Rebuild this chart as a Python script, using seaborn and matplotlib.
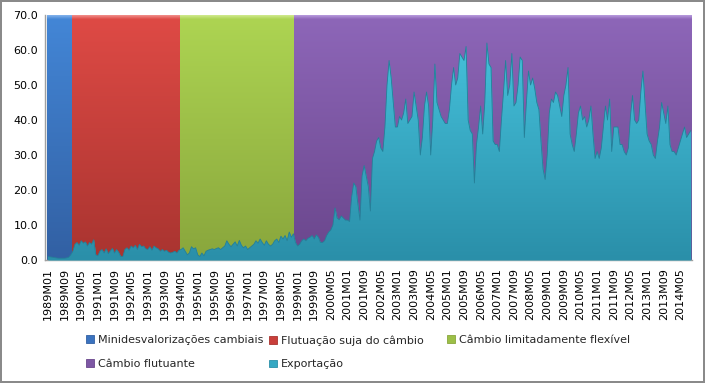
import numpy as np
import pandas as pd
import matplotlib
matplotlib.use("Agg")
import matplotlib.pyplot as plt
from matplotlib.colors import LinearSegmentedColormap
from matplotlib.patches import Patch
import seaborn as sns

# meses 1989M01 .. 2014M10
meses = [f"{a}M{m:02d}" for a in range(1989, 2015) for m in range(1, 13)][:310]

exportacao = [
    1.0, 0.9, 0.8, 0.7, 0.6, 0.5, 0.5, 0.5, 0.5, 0.6, 0.8, 1.5,   # 1989
    2.5, 4.5, 5.0, 4.2, 5.5, 4.8, 5.2, 4.0, 5.0, 4.5, 5.8, 1.5,   # 1990
    1.2, 2.5, 3.0, 2.0, 3.2, 1.8, 2.6, 3.3, 2.0, 3.0, 2.2, 1.0,   # 1991
    1.0, 3.0, 3.5, 2.8, 4.0, 3.5, 4.2, 3.0, 4.5, 3.8, 4.0, 3.2,   # 1992
    3.0, 3.8, 2.8, 4.0, 3.5, 3.2, 2.5, 3.0, 2.5, 2.8, 2.2, 2.0,   # 1993
    2.2, 2.5, 2.0, 2.8, 3.0, 3.5, 2.5, 1.5, 2.0, 3.8, 3.2, 3.5,   # 1994
    1.5, 1.0, 2.0, 1.2, 2.5, 2.8, 3.0, 3.2, 3.0, 3.3, 3.5, 3.0,   # 1995
    3.5, 4.0, 5.5, 4.5, 3.8, 4.5, 5.2, 4.0, 5.6, 4.2, 3.5, 4.0,   # 1996
    3.0, 3.5, 4.0, 4.5, 5.5, 4.8, 6.0, 5.0, 4.2, 5.5, 4.5, 4.0,   # 1997
    4.5, 5.5, 6.0, 5.0, 6.8, 6.0, 7.0, 5.5, 8.0, 6.5, 7.5, 5.0,   # 1998
    4.0, 4.5, 5.5, 6.0, 5.5, 6.2, 6.5, 7.0, 6.0, 7.2, 6.5, 5.0,   # 1999
    5.0, 5.5, 7.0, 8.0, 8.6, 10.0, 14.9, 12.0, 11.5, 12.6, 12.0, 11.4,  # 2000
    11.4, 11.0, 18.0, 22.0, 21.0, 16.0, 11.4, 24.0, 27.0, 24.0, 21.0, 14.0,  # 2001
    29, 31, 34, 35, 32, 31, 38, 50, 57, 52, 45, 38,   # 2002
    38, 41, 40, 42, 46, 39, 40, 41, 48, 44, 40, 30,   # 2003
    35, 44, 48, 44, 30, 40, 56, 45, 43, 41, 40, 39,   # 2004
    39, 43, 50, 55, 50, 52, 59, 58, 57, 61, 40, 37,   # 2005
    36, 22, 33, 38, 44, 36, 45, 62, 56, 55, 34, 33,   # 2006
    33, 31, 40, 48, 57, 47, 50, 59, 44, 45, 50, 58,   # 2007
    57, 35, 45, 54, 50, 52, 49, 45, 43, 34, 26, 23,   # 2008
    30, 42, 46, 45, 48, 47, 44, 41, 47, 50, 55, 36,   # 2009
    33, 31, 36, 42, 44, 40, 41, 38, 40, 44, 36, 29,   # 2010
    31, 29, 32, 38, 44, 40, 46, 31, 38, 38, 38, 33,   # 2011
    33, 31, 30, 32, 41, 47, 40, 39, 40, 48, 54, 45,   # 2012
    36, 34, 33, 30, 29, 34, 38, 45, 42, 39, 44, 33,   # 2013
    31, 31, 30, 32, 34, 36, 38, 35, 36, 37,           # 2014
]

regimes = ["Minidesvalorizações cambiais", "Flutuação suja do câmbio",
           "Câmbio limitadamente flexível", "Câmbio flutuante"]
regime_inicio = ["1989M01", "1990M01", "1994M05", "1998M12"]
regime_fim = ["1989M12", "1994M04", "1998M11", "2014M10"]
regime_topo = 70

# (brilho, topo, meio, base) de cada cor
cores = [("#7fb0ea", "#4386d6", "#3b73bf", "#3260a3"),
         ("#f08a86", "#de4a45", "#c93f3b", "#a93430"),
         ("#cde88a", "#add452", "#9cbf47", "#89a63c"),
         ("#b597da", "#8d66b8", "#7d57a4", "#6a468c")]
teal = ("#45c0da", "#35a8c3", "#2a8fa9")

sns.set_theme(style="white")
plt.rcParams["font.family"] = ["DejaVu Sans"]

df = pd.DataFrame({"mes": meses, "x": np.arange(len(meses)), "valor": exportacao})

fig = plt.figure(figsize=(7.05, 3.83), dpi=100)
fig.patch.set_edgecolor("#8a8a8a")
fig.patch.set_linewidth(1.5)
ax = fig.add_axes([45 / 705, 1 - 260 / 383, (692 - 45) / 705, (260 - 15) / 383])

grad = np.linspace(0, 1, 512).reshape(-1, 1)
handles = []
for nome, ini, fim, (c_hi, c_top, c_mid, c_bot) in zip(regimes, regime_inicio, regime_fim, cores):
    i0, i1 = meses.index(ini), meses.index(fim)
    bars = ax.bar(i0 - 0.5, regime_topo, width=i1 - i0 + 1, align="edge",
                  color=c_mid, edgecolor=c_bot, linewidth=0.8, zorder=1)
    cmap = LinearSegmentedColormap.from_list(nome, [(0, c_bot), (0.985, c_top), (1, c_hi)])
    im = ax.imshow(grad, extent=[i0 - 0.5, i1 + 0.5, 0, regime_topo], origin="lower",
                   aspect="auto", cmap=cmap, zorder=1.2)
    im.set_clip_path(bars.patches[0])
    handles.append(Patch(facecolor=c_mid, edgecolor=c_bot, linewidth=0.6, label=nome))

area = ax.fill_between(df["x"], 0, df["valor"], color=teal[1], linewidth=0, zorder=3)
cmap_t = LinearSegmentedColormap.from_list("teal", [teal[2], teal[0]])
im = ax.imshow(grad, extent=[-0.5, len(meses) - 0.5, 0, 62], origin="lower",
               aspect="auto", cmap=cmap_t, zorder=3.2)
im.set_clip_path(area.get_paths()[0], transform=ax.transData)
sns.lineplot(data=df, x="x", y="valor", color="#257f98", linewidth=0.6,
             ax=ax, zorder=4, legend=False)
handles.append(Patch(facecolor=teal[1], edgecolor=teal[2], linewidth=0.6, label="Exportação"))

ax.set_xlim(-1.4, 309.6)
ax.set_ylim(0, 70)
ax.set_xlabel("")
ax.set_ylabel("")
ax.set_xticks(df["x"][::8])
ax.set_xticklabels(df["mes"][::8], rotation=90, fontsize=8, color="black")
ax.set_yticks(np.arange(0, 71, 10))
ax.set_yticklabels([f"{v:.1f}" for v in np.arange(0, 71, 10)], fontsize=8, color="black")
ax.tick_params(axis="x", length=0, pad=6)
ax.tick_params(axis="y", length=0, pad=5)
for s in ["top", "right"]:
    ax.spines[s].set_visible(False)
for s in ["left", "bottom"]:
    ax.spines[s].set_color("#a0a0a0")
    ax.spines[s].set_linewidth(1.0)
ax.grid(False)

# legenda em tres colunas de largura igual
colunas = [[handles[0], handles[3]], [handles[1], handles[4]], [handles[2]]]
for k, col in enumerate(colunas):
    fig.legend(handles=col, loc="upper left", bbox_to_anchor=([86, 269, 447][k] / 705, 1 - 335 / 383),
               frameon=False, fontsize=8, handlelength=0.7, handleheight=0.7,
               handletextpad=0.4, labelspacing=1.25, borderaxespad=0, borderpad=0)

fig.savefig("out.png", dpi=100, edgecolor=fig.get_edgecolor())
